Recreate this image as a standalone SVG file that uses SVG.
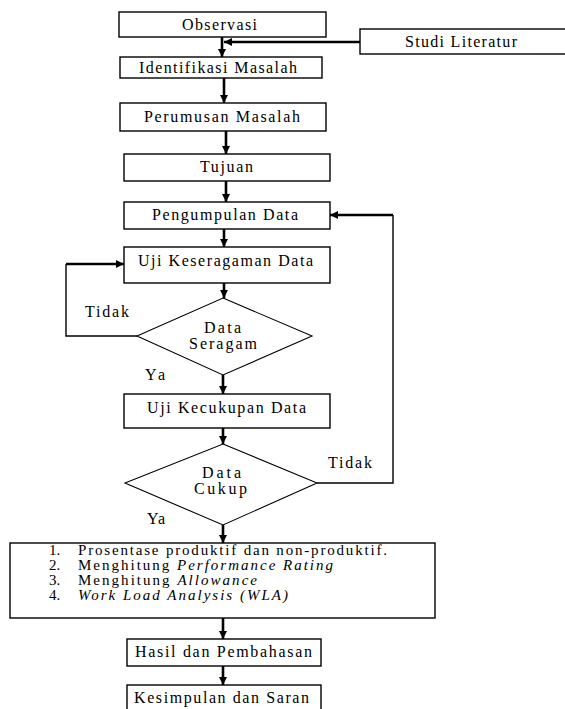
<svg xmlns="http://www.w3.org/2000/svg" width="565" height="709" viewBox="0 0 565 709">
<style>
.box{fill:#fff;stroke:#000;stroke-width:1.4}
.dia{fill:#fff;stroke:#000;stroke-width:1.1}
.i{font-style:italic}
.arr{fill:none;stroke:#000;stroke-width:2.6}
.thin{fill:none;stroke:#000;stroke-width:1.4}
</style>
<defs>
<marker id="ah" viewBox="0 0 10 10" refX="10" refY="5" markerWidth="3.2" markerHeight="3.2" orient="auto" markerUnits="strokeWidth">
<path d="M0,0 L10,5 L0,10 z" fill="#000"/>
</marker>
</defs>
<rect width="565" height="709" fill="#fff"/>
<g id="connectors">
<line class="arr" x1="222" y1="37" x2="222" y2="57" marker-end="url(#ah)"/>
<line class="arr" x1="360" y1="42" x2="224" y2="42" marker-end="url(#ah)"/>
<line class="arr" x1="224" y1="78" x2="224" y2="103" marker-end="url(#ah)"/>
<line class="arr" x1="226" y1="131" x2="226" y2="154" marker-end="url(#ah)"/>
<line class="arr" x1="226" y1="181" x2="226" y2="202" marker-end="url(#ah)"/>
<line class="arr" x1="224" y1="229" x2="224" y2="247" marker-end="url(#ah)"/>
<line class="arr" x1="224" y1="283" x2="224" y2="298" marker-end="url(#ah)"/>
<line class="arr" x1="223" y1="375" x2="223" y2="394" marker-end="url(#ah)"/>
<line class="arr" x1="223" y1="428" x2="223" y2="444" marker-end="url(#ah)"/>
<line class="arr" x1="223" y1="525" x2="223" y2="543" marker-end="url(#ah)"/>
<line class="arr" x1="223" y1="618" x2="223" y2="639" marker-end="url(#ah)"/>
<line class="arr" x1="223" y1="666" x2="223" y2="685" marker-end="url(#ah)"/>
<polyline class="thin" points="137,336 66,336 66,264"/>
<line class="arr" x1="66" y1="264" x2="124" y2="264" marker-end="url(#ah)"/>
<polyline class="thin" points="317,483 393,483 393,215"/>
<line class="arr" x1="393" y1="215" x2="330" y2="215" marker-end="url(#ah)"/>
</g>
<g font-family="Liberation Serif, Times New Roman, DejaVu Serif, serif" font-size="16" fill="#000">
<g id="observasi"><rect class="box" x="119" y="12" width="207" height="25"/><text x="182" y="30" textLength="75" lengthAdjust="spacing">Observasi</text></g>
<g id="studi"><rect class="box" x="360" y="29" width="210" height="25"/><text x="405" y="47" textLength="112" lengthAdjust="spacing">Studi Literatur</text></g>
<g id="identifikasi"><rect class="box" x="120" y="57" width="202" height="21"/><text x="139" y="73" textLength="158" lengthAdjust="spacing">Identifikasi Masalah</text></g>
<g id="perumusan"><rect class="box" x="120" y="103" width="206" height="28"/><text x="144" y="122" textLength="156" lengthAdjust="spacing">Perumusan Masalah</text></g>
<g id="tujuan"><rect class="box" x="124" y="154" width="206" height="27"/><text x="200" y="172" textLength="53" lengthAdjust="spacing">Tujuan</text></g>
<g id="pengumpulan"><rect class="box" x="124" y="202" width="206" height="27"/><text x="152" y="220" textLength="146" lengthAdjust="spacing">Pengumpulan Data</text></g>
<g id="keseragaman"><rect class="box" x="124" y="247" width="206" height="36"/><text x="138" y="266" textLength="175" lengthAdjust="spacing">Uji Keseragaman Data</text></g>
<g id="seragam"><polygon class="dia" points="223,298 312,336 223,375 137,336"/><text x="204" y="333" textLength="37" lengthAdjust="spacing">Data</text><text x="189" y="349" textLength="68" lengthAdjust="spacing">Seragam</text></g>
<g id="label-tidak-1"><text x="85" y="317" textLength="44" lengthAdjust="spacing">Tidak</text></g>
<g id="label-ya-1"><text x="145" y="380" textLength="20" lengthAdjust="spacing">Ya</text></g>
<g id="kecukupan"><rect class="box" x="124" y="394" width="206" height="34"/><text x="147" y="413" textLength="159" lengthAdjust="spacing">Uji Kecukupan Data</text></g>
<g id="cukup"><polygon class="dia" points="223,444 317,483 223,525 125,483"/><text x="202" y="478" textLength="39" lengthAdjust="spacing">Data</text><text x="194" y="494" textLength="53" lengthAdjust="spacing">Cukup</text></g>
<g id="label-tidak-2"><text x="328" y="468" textLength="44" lengthAdjust="spacing">Tidak</text></g>
<g id="label-ya-2"><text x="147" y="524" textLength="18" lengthAdjust="spacing">Ya</text></g>
<g id="analisis" font-size="15">
<rect class="box" x="10" y="543" width="425" height="75"/>
<text x="49" y="555">1.</text><text x="78" y="555" textLength="309" lengthAdjust="spacing">Prosentase produktif dan non-produktif.</text>
<text x="49" y="570">2.</text><text x="78" y="570" textLength="255" lengthAdjust="spacing">Menghitung <tspan class="i">Performance Rating</tspan></text>
<text x="49" y="585">3.</text><text x="78" y="585" textLength="179" lengthAdjust="spacing">Menghitung <tspan class="i">Allowance</tspan></text>
<text x="49" y="600">4.</text><text class="i" x="78" y="600" textLength="210" lengthAdjust="spacing">Work Load Analysis (WLA)</text>
</g>
<g id="hasil"><rect class="box" x="127" y="639" width="194" height="27"/><text x="135" y="657" textLength="177" lengthAdjust="spacing">Hasil dan Pembahasan</text></g>
<g id="kesimpulan"><rect class="box" x="127" y="685" width="194" height="30"/><text x="134" y="703" textLength="175" lengthAdjust="spacing">Kesimpulan dan Saran</text></g>
</g>
</svg>
